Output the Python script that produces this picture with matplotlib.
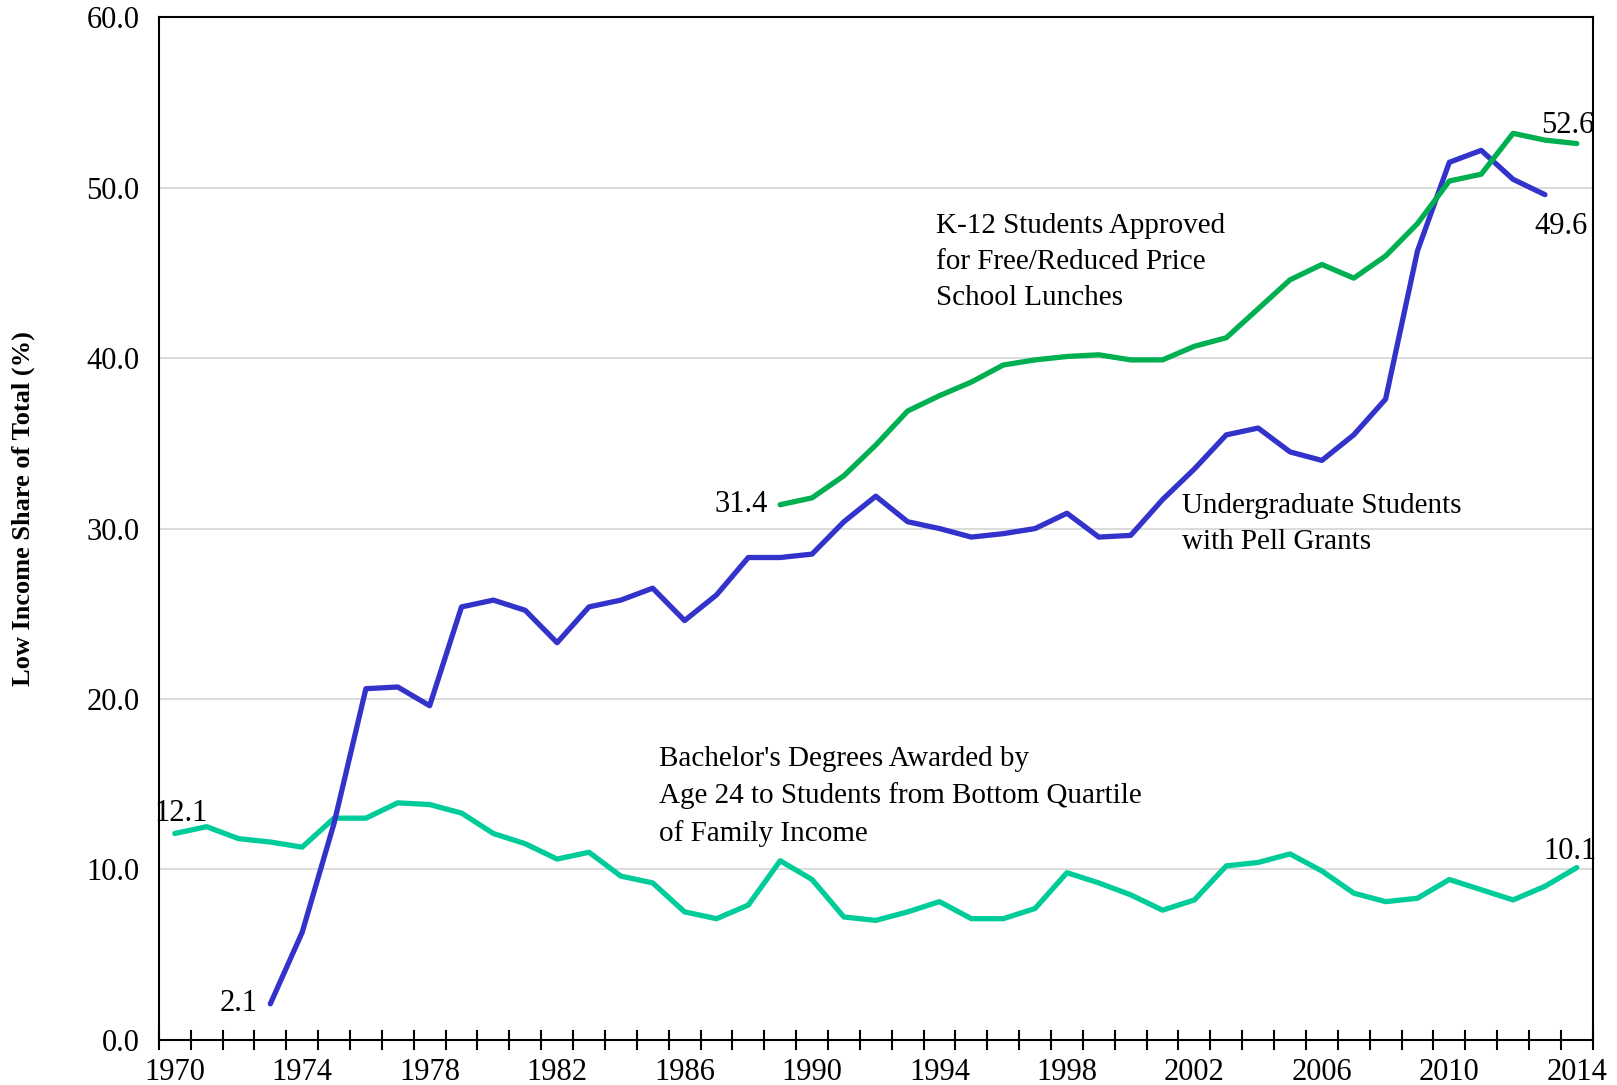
import matplotlib
matplotlib.use("Agg")
import matplotlib.pyplot as plt
import numpy as np

plt.rcParams['font.family'] = ['Liberation Serif', 'DejaVu Serif']

years = list(range(1970, 2015))

bachelor = [12.1, 12.5, 11.8, 11.6, 11.3, 13.0, 13.0, 13.9, 13.8, 13.3,
            12.1, 11.5, 10.6, 11.0, 9.6, 9.2, 7.5, 7.1, 7.9, 10.5,
            9.4, 7.2, 7.0, 7.5, 8.1, 7.1, 7.1, 7.7, 9.8, 9.2,
            8.5, 7.6, 8.2, 10.2, 10.4, 10.9, 9.9, 8.6, 8.1, 8.3,
            9.4, 8.8, 8.2, 9.0, 10.1]

pell_years = list(range(1973, 2014))
pell = [2.1, 6.3, 12.7, 20.6, 20.7, 19.6, 25.4, 25.8, 25.2, 23.3,
        25.4, 25.8, 26.5, 24.6, 26.1, 28.3, 28.3, 28.5, 30.4, 31.9,
        30.4, 30.0, 29.5, 29.7, 30.0, 30.9, 29.5, 29.6, 31.7, 33.5,
        35.5, 35.9, 34.5, 34.0, 35.5, 37.6, 46.3, 51.5, 52.2, 50.5,
        49.6]

lunch_years = list(range(1989, 2015))
lunch = [31.4, 31.8, 33.1, 34.9, 36.9, 37.8, 38.6, 39.6, 39.9, 40.1,
         40.2, 39.9, 39.9, 40.7, 41.2, 42.9, 44.6, 45.5, 44.7, 46.0,
         47.9, 50.4, 50.8, 53.2, 52.8, 52.6]

label_years = list(range(1970, 2015, 4))

fig = plt.figure(figsize=(16.17, 10.85), dpi=100)
ax = fig.add_axes([0.0982, 0.0418, 0.985 - 0.0982, 0.9839 - 0.0418])

lw = 3.8
ax.plot(years, bachelor, color='#00CC99', lw=lw, solid_capstyle='round', zorder=3)
ax.plot(pell_years, pell, color='#3333CC', lw=lw, solid_capstyle='round', zorder=4)
ax.plot(lunch_years, lunch, color='#00B050', lw=lw, solid_capstyle='round', zorder=4)

ax.set_xlim(1969.5, 2014.5)
ax.set_ylim(0, 60)

# Оси
ax.set_yticks(np.arange(0, 61, 10))
ax.set_yticklabels([f"{v:.1f}" for v in np.arange(0, 61, 10)], fontsize=22)
ax.tick_params(axis='y', length=0, pad=14)
ax.grid(axis='y', color='#D9D9D9', lw=1.3, zorder=0)

# Засечки между категориями, подписи по центру
ax.set_xticks(np.arange(1969.5, 2015, 1))
ax.set_xticklabels([])
ax.tick_params(axis='x', which='major', direction='inout', length=14, width=1.5, color='black')
ax.set_xticks(label_years, minor=True)
ax.set_xticklabels([str(y) for y in label_years], minor=True, fontsize=22)
ax.tick_params(axis='x', which='minor', length=0, pad=13)

for s in ax.spines.values():
    s.set_linewidth(1.5)
    s.set_color('black')

ax.set_ylabel('Low Income Share of Total (%)', fontsize=19, fontweight='bold')
ax.yaxis.set_label_coords(-0.086, 0.52)

# Подписи значений
ax.text(1970.2, 12.4, '12.1', fontsize=22, ha='center', va='bottom')
ax.text(1972.6, 2.1, '2.1', fontsize=22, ha='right', va='center')
ax.text(1988.6, 31.4, '31.4', fontsize=22, ha='right', va='center')
ax.text(2013.5, 48.6, '49.6', fontsize=22, ha='center', va='top')
ax.text(2013.7, 52.8, '52.6', fontsize=22, ha='center', va='bottom')
ax.text(2013.8, 10.2, '10.1', fontsize=22, ha='center', va='bottom')

# Названия рядов
ax.text(1993.9, 48.55, 'K-12 Students Approved\nfor Free/Reduced Price\nSchool Lunches',
        fontsize=21, ha='left', va='top', linespacing=1.5)
ax.text(2001.6, 32.1, 'Undergraduate Students\nwith Pell Grants',
        fontsize=21, ha='left', va='top', linespacing=1.5)
ax.text(1985.2, 17.25, "Bachelor's Degrees Awarded by\nAge 24 to Students from Bottom Quartile\nof Family Income",
        fontsize=21, ha='left', va='top', linespacing=1.5)

fig.savefig('out.png', dpi=100)
